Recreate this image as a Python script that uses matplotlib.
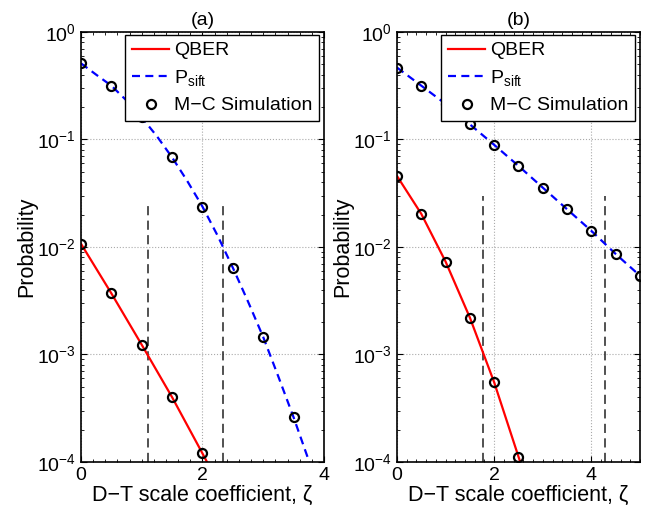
import numpy as np
import matplotlib
matplotlib.use('Agg')
import matplotlib.pyplot as plt
from matplotlib.ticker import MultipleLocator, LogLocator, NullFormatter

plt.rcParams['font.family'] = ['Liberation Sans', 'DejaVu Sans']
plt.rcParams['mathtext.fontset'] = 'custom'
plt.rcParams['mathtext.rm'] = 'Liberation Sans'
plt.rcParams['mathtext.it'] = 'Liberation Sans:italic'
plt.rcParams['font.size'] = 14

# (a) data
xa_sim = [0, 0.5, 1, 1.5, 2, 2.5, 3, 3.5]
qber_a_sim = [0.0107, 3.7e-3, 1.23e-3, 4.0e-4, 1.2e-4]
psift_a_sim = [0.51, 0.316, 0.16, 0.068, 0.0237, 6.4e-3, 1.45e-3, 2.6e-4]
xa_qber_line = [0, 0.5, 1, 1.5, 2, 2.25]
qber_a_line = [0.0107, 3.7e-3, 1.23e-3, 4.0e-4, 1.2e-4, 6.5e-5]
xa_psift_line = [0, 0.25, 0.5, 0.75, 1, 1.25, 1.5, 1.75, 2, 2.25, 2.5, 2.75, 3, 3.25, 3.5, 3.75, 4]
psift_a_line = [0.51, 0.40, 0.316, 0.23, 0.16, 0.107, 0.068, 0.041, 0.0237,
                0.0127, 6.4e-3, 3.1e-3, 1.45e-3, 6.2e-4, 2.6e-4, 1.03e-4, 3.7e-5]
vlines_a = [1.11, 2.33]
vtop_a = 0.026

# (b) data
xb_sim = [0, 0.5, 1, 1.5, 2, 2.5, 3, 3.5, 4, 4.5, 5]
qber_b_sim = [0.0457, 0.0203, 7.3e-3, 2.2e-3, 5.5e-4, 1.12e-4]
psift_b_sim = [0.466, 0.316, 0.214, 0.138, 0.089, 0.0567, 0.0356, 0.0224, 0.0141, 8.6e-3, 5.4e-3]
xb_qber_line = [0, 0.5, 1, 1.5, 2, 2.5, 2.75]
qber_b_line = [0.0457, 0.0203, 7.3e-3, 2.2e-3, 5.5e-4, 1.12e-4, 5.0e-5]
vlines_b = [1.78, 4.28]
vtop_b = 0.030

fig = plt.figure(figsize=(6.49, 5.12), dpi=100)
ax_a = fig.add_axes([0.1248, 0.0977, 0.3744, 0.840])
ax_b = fig.add_axes([0.6117, 0.0977, 0.3744, 0.840])

panels = [
    (ax_a, '(a)', xa_sim, qber_a_sim, psift_a_sim, xa_qber_line, qber_a_line,
     xa_psift_line, psift_a_line, vlines_a, vtop_a, 4),
    (ax_b, '(b)', xb_sim, qber_b_sim, psift_b_sim, xb_qber_line, qber_b_line,
     xb_sim, psift_b_sim, vlines_b, vtop_b, 5),
]

for ax, title, xs, qs, ps, xql, ql, xpl, pl, vl, vtop, xmax in panels:
    ax.set_yscale('log')
    ax.set_xlim(0, xmax)
    ax.set_ylim(1e-4, 1)
    ax.grid(True, which='major', color='#aaaaaa', linestyle=':', linewidth=0.8)
    for v in vl:
        ax.plot([v, v], [1e-4, vtop], color='#222222', linestyle=(0, (6, 3.5)), linewidth=1.1)
    lq, = ax.plot(xql, ql, color='red', linewidth=1.6, label='QBER')
    lp, = ax.plot(xpl, pl, color='blue', linestyle=(0, (3.6, 2.4)), linewidth=1.6,
                  label=r'P$_{\rm sift}$')
    lm, = ax.plot(xs[:len(qs)], qs, 'o', markersize=6.5, markerfacecolor='none',
                  markeredgecolor='black', markeredgewidth=1.6, label='M\u2212C Simulation')
    ax.plot(xs, ps, 'o', markersize=6.5, markerfacecolor='none',
            markeredgecolor='black', markeredgewidth=1.6)
    ax.xaxis.set_major_locator(MultipleLocator(2))
    ax.xaxis.set_minor_locator(MultipleLocator(0.2))
    ax.yaxis.set_major_locator(LogLocator(base=10, numticks=10))
    ax.yaxis.set_minor_locator(LogLocator(base=10, subs=np.arange(2, 10), numticks=10))
    ax.yaxis.set_minor_formatter(NullFormatter())
    ax.tick_params(which='both', direction='in', top=True, right=True, labelsize=14)
    ax.tick_params(which='major', length=4, width=0.8)
    ax.tick_params(which='minor', length=2, width=0.6)
    for s in ax.spines.values():
        s.set_linewidth(1.2)
    ax.set_title(title, fontsize=14, pad=5)
    ax.set_xlabel('D\u2212T scale coefficient, \u03b6', fontsize=15.5, labelpad=1)
    ax.set_ylabel('Probability', fontsize=15.5, labelpad=0)
    leg = ax.legend(handles=[lq, lp, lm], loc='upper right', bbox_to_anchor=(0.98, 0.993),
                    fontsize=14, frameon=True, fancybox=False, framealpha=1,
                    edgecolor='black', handlelength=1.9, borderpad=0.35,
                    labelspacing=0.45, handletextpad=0.25, borderaxespad=0)
    leg.get_frame().set_linewidth(1.0)

plt.savefig('out.png', dpi=100)
plt.close(fig)
